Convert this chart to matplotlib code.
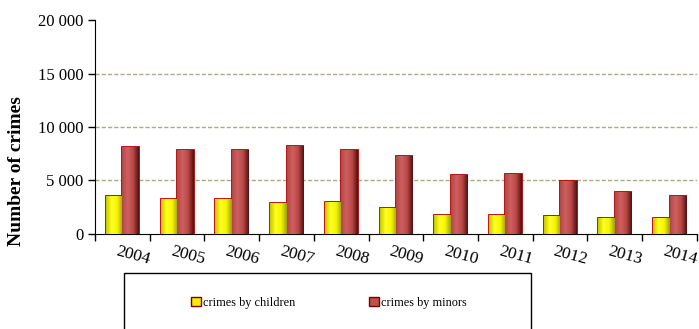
import matplotlib.pyplot as plt
import numpy as np
from matplotlib.colors import LinearSegmentedColormap
from matplotlib.patches import Rectangle, Patch

years = ['2004', '2005', '2006', '2007', '2008', '2009', '2010', '2011', '2012', '2013', '2014']
children = [3500, 3300, 3300, 2850, 2980, 2450, 1740, 1740, 1650, 1460, 1460]
minors = [8130, 7820, 7820, 8230, 7860, 7330, 5500, 5620, 4910, 3950, 3570]

plt.rcParams['font.family'] = ['Liberation Serif', 'DejaVu Serif']

fig = plt.figure(figsize=(6.99, 3.29), dpi=100)
ax = fig.add_axes([0.136, 0.289, 0.861, 0.650])

x = np.arange(len(years))
w = 0.30
yellow_cm = LinearSegmentedColormap.from_list('y', ['#C8C800', '#FFFF20', '#F5F500', '#A0A000'])
red_cm = LinearSegmentedColormap.from_list('r', ['#B04848', '#D06060', '#B84745', '#501010'])
grad = np.linspace(0, 1, 64).reshape(1, -1)

b1 = ax.bar(x - w / 2, children, w, color='#F0F000', edgecolor='#C00000', linewidth=1.3, zorder=3)
b2 = ax.bar(x + w / 2, minors, w, color='#C0504D', edgecolor='#B00000', linewidth=1.3, zorder=3)

# horizontal shading to mimic the bevelled 3D bars
for bars, cm in [(b1, yellow_cm), (b2, red_cm)]:
    for p in bars:
        x0, h, bw = p.get_x(), p.get_height(), p.get_width()
        im = ax.imshow(grad, cmap=cm, aspect='auto', extent=[x0, x0 + bw, 0, h], zorder=3.5)
        im.set_clip_path(p)

ax.set_xlim(-0.5, len(years) - 0.5)
ax.set_ylim(0, 20000)
ax.set_yticks([0, 5000, 10000, 15000, 20000])
ax.set_yticklabels(['0', '5 000', '10 000', '15 000', '20 000'], fontsize=12)
for yv in [5000, 10000, 15000]:
    ax.axhline(yv, color='#B0A880', linestyle=(0, (3, 1.5)), linewidth=1, zorder=1)

ax.set_xticks(np.arange(len(years) + 1) - 0.5)
ax.set_xticklabels([])
ax.tick_params(axis='x', length=5, direction='out', width=1)
ax.tick_params(axis='y', length=5, direction='out', width=1)
for i, yr in enumerate(years):
    ax.text(i + 0.19, -2020, yr, rotation=-15, ha='center', va='center', fontsize=12.5)

ax.spines['top'].set_visible(False)
ax.spines['right'].set_visible(False)
fig.text(17 / 699, 1 - 171 / 329, 'Number of crimes', rotation=90, ha='center', va='center',
         fontsize=14, fontweight='bold')

# legend box
fig.patches.append(Rectangle((124 / 699, -0.05), (531 - 124) / 699, (329 - 273) / 329 + 0.05,
                             transform=fig.transFigure, fill=False, edgecolor='black', linewidth=1))
handles = [Patch(facecolor='#F0F000', edgecolor='#7A0000', label='crimes by children'),
           Patch(facecolor='#C0504D', edgecolor='#7A0000', label='crimes by minors')]
fig.legend(handles=handles, loc='center', bbox_to_anchor=(329 / 699, 1 - 303 / 329), ncol=2,
           frameon=False, fontsize=8.8, handlelength=0.8, handleheight=0.8,
           handletextpad=0.2, columnspacing=6.0)

fig.savefig('out.png', dpi=100)
